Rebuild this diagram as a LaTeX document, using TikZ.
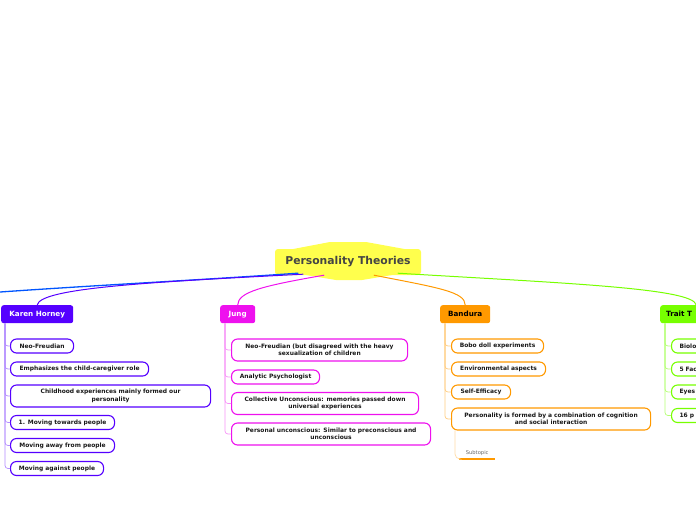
\documentclass[tikz,border=0pt]{standalone}
\usepackage{fontspec}
\setmainfont{DejaVu Sans}
\usetikzlibrary{calc}
\definecolor{kcol}{HTML}{5500FF}
\definecolor{jcol}{HTML}{EE11EE}
\definecolor{bcol}{HTML}{FF9900}
\definecolor{tcol}{HTML}{77FF00}
\definecolor{bluecol}{HTML}{0055FF}
\definecolor{ycol}{HTML}{FFFF4D}
\definecolor{titcol}{HTML}{444444}
\newcommand{\subfont}{\fontsize{5.95}{7.4}\selectfont\bfseries}
\newcommand{\topfont}{\fontsize{7.2}{8.5}\selectfont\bfseries}
\tikzset{
  subbox/.style={draw, line width=1.1pt, fill=white, rounded corners=6pt, font=\subfont,
    inner xsep=8pt, inner ysep=0pt, minimum height=14pt, anchor=west, text=black!90},
  subtwo/.style={subbox, align=center, minimum height=22pt},
  topicbox/.style={rounded corners=2.5pt, font=\topfont, minimum height=18pt, anchor=north west, inner xsep=6pt},
  branch/.style={line width=0.7pt, rounded corners=3pt},
  mainline/.style={line width=1.3pt, line cap=round},
}
\begin{document}
\begin{tikzpicture}[x=1pt,y=-1pt]
\useasboundingbox (0,0) rectangle (696,520);
\clip (0,0) rectangle (696,520);
% central topic
\fill[ycol] (288,250) -- (330,242) -- (366,242) -- (410,250) -- cycle;
\fill[ycol] (300,274) -- (336,280) -- (362,280) -- (398,274) -- cycle;
\node[fill=ycol, rounded corners=3pt, minimum width=146pt, minimum height=26pt,
  text=titcol, font=\fontsize{10.8}{12}\selectfont\bfseries] (c) at (348,262) {Personality Theories};
% main topics
\node[topicbox, fill=kcol, text=white, minimum width=72pt] (kh) at (1,305) {Karen Horney};
\node[topicbox, fill=jcol, text=white, minimum width=35pt] (jg) at (220,305) {Jung};
\node[topicbox, fill=bcol, text=black, minimum width=50pt] (bd) at (440,305) {Bandura};
\node[topicbox, fill=tcol, text=black, minimum width=72pt, text width=60pt, align=left] (tt) at (660,305) {Trait T};
\coordinate (leftend) at (0,292);
% main connectors
\draw[mainline, bluecol] ($(c.south)+(-50,-2)$) .. controls (200,280) and (100,285) .. (leftend);
\draw[mainline, kcol, line width=1pt] ($(c.south)+(-45,-1)$) .. controls (150,282) and (40,288) .. (kh.north);
\draw[mainline, jcol, line width=1pt] ($(c.south)+(-24,0)$) .. controls (262,286) and (238,292) .. (jg.north);
\draw[mainline, bcol, line width=1pt] ($(c.south)+(26,0)$) .. controls (440,288) and (465,292) .. (bd.north);
\draw[mainline, tcol, line width=1pt] ($(c.south)+(50,-2)$) .. controls (560,283) and (694,288) .. (tt.north);
% Karen Horney subtopics
\node[subbox, draw=kcol, minimum width=63pt] (k1) at (10,346) {Neo-Freudian};
\node[subbox, draw=kcol, minimum width=138pt] (k2) at (10,369) {Emphasizes the child-caregiver role};
\node[subtwo, draw=kcol, text width=184pt] (k3) at (10,396) {Childhood experiences mainly formed our\\personality};
\node[subbox, draw=kcol, minimum width=104pt] (k4) at (10,422.5) {1. Moving towards people};
\node[subbox, draw=kcol, minimum width=104pt] (k5) at (10,445.5) {Moving away from people};
\node[subbox, draw=kcol, minimum width=93pt] (k6) at (10,468.5) {Moving against people};
\foreach \n in {k6,k5,k4,k3,k2,k1}
  \draw[branch, kcol!45] ([xshift=4pt]kh.south west) |- (\n.west);
% Jung subtopics
\node[subtwo, draw=jcol, text width=160pt] (j1) at (231,350) {Neo-Freudian (but disagreed with the heavy\\sexualization of children};
\node[subbox, draw=jcol, minimum width=88pt] (j2) at (231,377) {Analytic Psychologist};
\node[subtwo, draw=jcol, text width=171pt] (j3) at (231,403.5) {Collective Unconscious: memories passed down\\universal experiences};
\node[subtwo, draw=jcol, text width=183pt] (j4) at (231,434) {Personal unconscious: Similar to preconscious and\\unconscious};
\foreach \n in {j4,j3,j2,j1}
  \draw[branch, jcol!45] ([xshift=5pt]jg.south west) |- (\n.west);
% Bandura subtopics
\node[subbox, draw=bcol, minimum width=92pt] (b1) at (451,346) {Bobo doll experiments};
\node[subbox, draw=bcol, minimum width=94pt] (b2) at (451,369) {Environmental aspects};
\node[subbox, draw=bcol, minimum width=59pt] (b3) at (451,392) {Self-Efficacy};
\node[subtwo, draw=bcol, text width=183pt] (b4) at (451,419) {Personality is formed by a combination of cognition\\and social interaction};
\foreach \n in {b4,b3,b2,b1}
  \draw[branch, bcol!50] ([xshift=5pt]bd.south west) |- (\n.west);
\node[anchor=south west, minimum width=36pt, inner sep=0pt, minimum height=11pt,
  font=\fontsize{5.2}{6}\selectfont, text=black!60] (st) at (459,459) {Subtopic};
\draw[bcol, line width=2.4pt] (st.south west) -- (st.south east);
\draw[branch, bcol!35, rounded corners=5pt] ([xshift=4pt]b4.south west) |- (st.south west);
% Trait subtopics (cut by the picture edge)
\node[subbox, draw=tcol, text width=40pt, align=left] (t1) at (671,346) {Biolo};
\node[subbox, draw=tcol, text width=40pt, align=left] (t2) at (671,369) {5 Fac};
\node[subbox, draw=tcol, text width=40pt, align=left] (t3) at (671,392) {Eyes};
\node[subbox, draw=tcol, text width=40pt, align=left] (t4) at (671,415.5) {16 p};
\foreach \n in {t4,t3,t2,t1}
  \draw[branch, tcol!55] ([xshift=5pt]tt.south west) |- (\n.west);
\end{tikzpicture}
\end{document}
